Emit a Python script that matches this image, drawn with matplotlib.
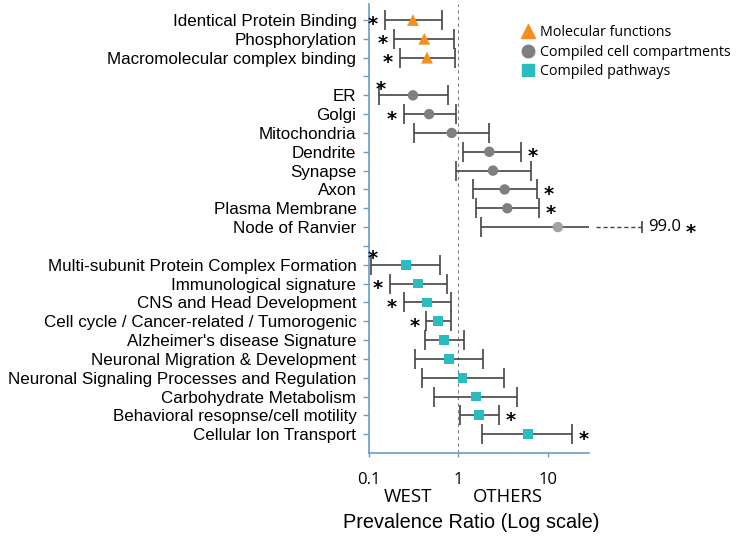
import matplotlib.pyplot as plt
import matplotlib.transforms as mtransforms
from matplotlib.lines import Line2D

# === Daten ===
mf_labels = ["Identical Protein Binding", "Phosphorylation", "Macromolecular complex binding"]
mf_pr = [0.31, 0.415, 0.445]
mf_lo = [0.151, 0.192, 0.220]
mf_hi = [0.65, 0.89, 0.91]
mf_star = ["L", "L", "L"]

cc_labels = ["ER", "Golgi", "Mitochondria", "Dendrite", "Synapse", "Axon",
             "Plasma Membrane", "Node of Ranvier"]
cc_pr = [0.31, 0.47, 0.84, 2.21, 2.43, 3.28, 3.51, 12.9]
cc_lo = [0.129, 0.246, 0.316, 1.12, 0.94, 1.46, 1.56, 1.77]
cc_hi = [0.757, 0.94, 2.21, 4.95, 6.41, 7.53, 7.92, 99.0]
cc_star = ["T", "L", "", "R", "", "R", "R", "X"]

pw_labels = ["Multi-subunit Protein Complex Formation", "Immunological signature",
             "CNS and Head Development", "Cell cycle / Cancer-related / Tumorogenic",
             "Alzheimer's disease Signature", "Neuronal Migration & Development",
             "Neuronal Signaling Processes and Regulation", "Carbohydrate Metabolism",
             "Behavioral resopnse/cell motility", "Cellular Ion Transport"]
pw_pr = [0.257, 0.355, 0.448, 0.594, 0.694, 0.783, 1.11, 1.56, 1.71, 5.93]
pw_lo = [0.106, 0.170, 0.244, 0.437, 0.425, 0.329, 0.391, 0.537, 1.03, 1.85]
pw_hi = [0.616, 0.75, 0.818, 0.824, 1.14, 1.88, 3.2, 4.54, 2.84, 18.5]
pw_star = ["T", "L", "L", "L", "", "", "", "", "R", "R"]

x_ticks = [0.1, 1, 10]
x_ticklabels = ["0.1", "1", "10"]

# === Stil ===
SPINE = "#6d9cc4"
BAR = "#444444"
LABEL_FONT = "Liberation Sans"
UI_FONT = "Open Sans"

groups = [
    ("Molecular functions", mf_labels, mf_pr, mf_lo, mf_hi, mf_star, "^", "#f5901e", 8.5, 10),
    ("Compiled cell compartments", cc_labels, cc_pr, cc_lo, cc_hi, cc_star, "o", "#7f7f7f", 7.5, 9),
    ("Compiled pathways", pw_labels, pw_pr, pw_lo, pw_hi, pw_star, "s", "#2bbcbf", 7, 8.5),
]

fig = plt.figure(figsize=(7.4, 5.36), dpi=100)
ax = fig.add_axes([0.4986, 0.1549, 0.2973, 0.8376])
ax.set_xscale("log")
ax.set_xlim(0.1, 28.7)
ax.set_ylim(23, -0.85)

ax.axvline(1, color="#808080", lw=0.8, ls=(0, (3, 3)), zorder=0)

blend = mtransforms.blended_transform_factory(ax.transAxes, ax.transData)
ytick_pos, ytick_lab = [], []
legend_handles = []
pos = 0
for name, labels, pr, lo, hi, stars, mk, col, ms, leg_ms in groups:
    ys = list(range(pos, pos + len(labels)))
    xerr = [[p - l for p, l in zip(pr, lo)], [h - p for p, h in zip(pr, hi)]]
    ax.errorbar(pr, ys, xerr=xerr, fmt="none", ecolor=BAR, elinewidth=1.2,
                capsize=7, capthick=1.2, zorder=2)
    face = [col] * len(ys)
    if name == "Compiled cell compartments":
        face[-1] = "#a3a3a3"
    ax.scatter(pr, ys, marker=mk, s=ms ** 2, c=face, edgecolors="none", zorder=3)
    legend_handles.append(Line2D([], [], ls="none", marker=mk, color=col, markersize=leg_ms))

    for y, l, h, s, p in zip(ys, lo, hi, stars, pr):
        if s == "L":
            ax.annotate("*", (l, y), xytext=(-8.5, -7.5), textcoords="offset points",
                        ha="center", va="baseline", fontsize=14, fontweight="bold")
        elif s == "R":
            ax.annotate("*", (h, y), xytext=(8.5, -7.5), textcoords="offset points",
                        ha="center", va="baseline", fontsize=14, fontweight="bold")
        elif s == "T":
            ax.annotate("*", (l, y), xytext=(1, 0.5), textcoords="offset points",
                        ha="center", va="baseline", fontsize=14, fontweight="bold")
        elif s == "X":
            # Achsenbruch: gestrichelte Verlaengerung bis zum oberen KI-Wert
            ax.plot([1.03, 1.242], [y, y], transform=blend, color=BAR, lw=1.0,
                    ls=(0, (3, 2)), clip_on=False)
            ax.plot([1.242], [y], transform=blend, marker="|", ms=9, mew=1.2,
                    color=BAR, clip_on=False)
            ax.annotate(f"{h:.1f}", (1.242, y), xycoords=blend, xytext=(4, 0),
                        textcoords="offset points", ha="left", va="center",
                        fontsize=12, family=UI_FONT)
            ax.annotate("*", (1.242, y), xycoords=blend, xytext=(35, -7.5),
                        textcoords="offset points", ha="center", va="baseline",
                        fontsize=14, fontweight="bold")
    ytick_pos += ys
    ytick_lab += labels
    pos += len(labels) + 1

ax.set_yticks(range(0, 23))
ax.set_yticklabels([ytick_lab[ytick_pos.index(i)] if i in ytick_pos else "" for i in range(23)],
                   family=LABEL_FONT, fontsize=12.25)
ax.set_xticks(x_ticks)
ax.set_xticklabels(x_ticklabels, family=UI_FONT, fontsize=12)
ax.minorticks_off()
ax.tick_params(axis="y", length=4, width=1, color=SPINE, pad=5)
ax.tick_params(axis="x", length=3, width=1, color=SPINE, pad=11)

for side in ["top", "right"]:
    ax.spines[side].set_visible(False)
for side in ["left", "bottom"]:
    ax.spines[side].set_color(SPINE)
    ax.spines[side].set_linewidth(1.2)

fig.text(408 / 740, 1 - 497 / 536, "WEST", ha="center", va="center", family=UI_FONT, fontsize=13.5)
fig.text(508 / 740, 1 - 497 / 536, "OTHERS", ha="center", va="center", family=UI_FONT, fontsize=13.3)
fig.text(471 / 740, 1 - 522 / 536, "Prevalence Ratio (Log scale)", ha="center", va="center",
         family=LABEL_FONT, fontsize=14.3)

ax.legend(legend_handles, [g[0] for g in groups], loc="upper left",
          bbox_to_anchor=(522 / 740, 1 - 25 / 536), bbox_transform=fig.transFigure,
          frameon=False, borderpad=0, borderaxespad=0, handlelength=0.9,
          handletextpad=0.35, labelspacing=0.32, prop={"family": UI_FONT, "size": 10.3})

fig.savefig("out.png", dpi=100)
